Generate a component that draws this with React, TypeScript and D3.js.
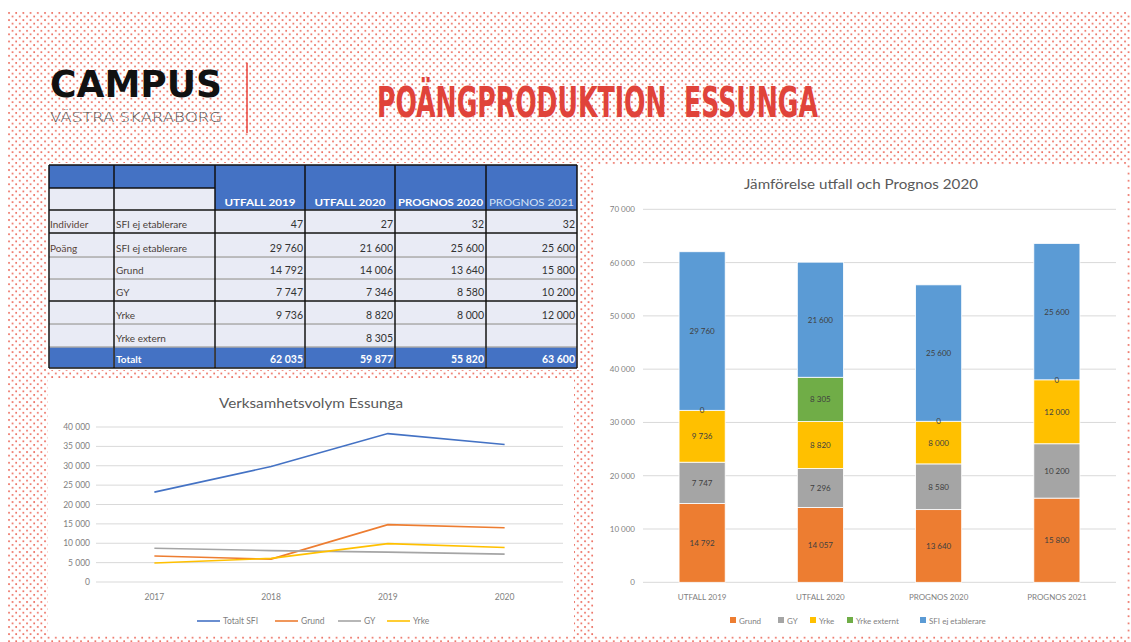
import React from 'react';
import * as d3 from 'd3';

// table
const tableColumns = ['UTFALL 2019', 'UTFALL 2020', 'PROGNOS 2020', 'PROGNOS 2021'];
const tableGroups = ['Individer', 'Poäng', '', '', '', '', ''];
const tableRowLabels = ['SFI ej etablerare', 'SFI ej etablerare', 'Grund', 'GY', 'Yrke', 'Yrke extern', 'Totalt'];
const tableValues: (number | null)[][] = [
  [47, 27, 32, 32],
  [29760, 21600, 25600, 25600],
  [14792, 14006, 13640, 15800],
  [7747, 7346, 8580, 10200],
  [9736, 8820, 8000, 12000],
  [null, 8305, null, null],
  [62035, 59877, 55820, 63600],
];

// line chart
const years = ['2017', '2018', '2019', '2020'];
const totaltSfi = [23200, 29800, 38300, 35500];
const grund = [6700, 5900, 14800, 14000];
const gy = [8700, 8100, 7700, 7200];
const yrke = [4900, 6100, 9900, 8900];
const lineNames = ['Totalt SFI', 'Grund', 'GY', 'Yrke'];
const lineTicks = [0, 5000, 10000, 15000, 20000, 25000, 30000, 35000, 40000];

// stacked bars
const barCategories = ['UTFALL 2019', 'UTFALL 2020', 'PROGNOS 2020', 'PROGNOS 2021'];
const barKeys = ['Grund', 'GY', 'Yrke', 'Yrke externt', 'SFI ej etablerare'];
const barGrund = [14792, 14057, 13640, 15800];
const barGy = [7747, 7296, 8580, 10200];
const barYrke = [9736, 8820, 8000, 12000];
const barYrkeExternt = [0, 8305, 0, 0];
const barSfi = [29760, 21600, 25600, 25600];
const barTicks = [0, 10000, 20000, 30000, 40000, 50000, 60000, 70000];

const fmt = d3.formatLocale({ decimal: ',', thousands: ' ', grouping: [3], currency: ['', ''] }).format(',');

const FONT = "Lato, 'Open Sans', sans-serif";
const BLUE = '#4472c4';
const LIGHT = '#e9ebf5';

const Table = () => {
  const xs = [49, 114, 215, 305, 395, 486, 577];
  const edges = [210, 233, 257, 279, 301, 324, 347, 368];
  const blackRows = [165, 210, 233, 301, 368];
  const greyRows = [257, 279, 324, 347];
  return (
    <g>
      <rect x={xs[0]} y={165} width={xs[2] - xs[0]} height={23} fill={BLUE} />
      <rect x={xs[0]} y={188} width={xs[2] - xs[0]} height={22} fill={LIGHT} />
      <rect x={xs[2]} y={165} width={xs[6] - xs[2]} height={45} fill={BLUE} />
      {tableColumns.map((c, i) => (
        <text key={c} x={(xs[i + 2] + xs[i + 3]) / 2} y={205.5} textAnchor="middle" fontFamily={FONT}
          fontSize={9.5} fontWeight={i === 3 ? 400 : 700} fill={i === 3 ? '#d6e3f6' : '#fff'}
          textLength={c.startsWith('PROGNOS') ? 85 : 71} lengthAdjust="spacingAndGlyphs">{c}</text>
      ))}
      {tableRowLabels.map((lab, r) => {
        const y0 = edges[r], y1 = edges[r + 1];
        const total = r === tableRowLabels.length - 1;
        return (
          <g key={r}>
            {xs.slice(0, -1).map((x, c) => (
              <rect key={c} x={x} y={y0} width={xs[c + 1] - x} height={y1 - y0}
                fill={total ? BLUE : LIGHT} stroke="#fff" strokeWidth={1} />
            ))}
            {tableGroups[r] && (
              <text x={xs[0] + 1} y={y1 - 5} fontFamily={FONT} fontSize={10} fill="#5a4438">{tableGroups[r]}</text>
            )}
            <text x={xs[1] + 2} y={y1 - 5} fontFamily={FONT} fontSize={10} fill={total ? '#fff' : '#4a3f3a'}
              fontWeight={total ? 700 : 400}>{lab}</text>
            {tableValues[r].map((v, c) => v === null ? null : (
              <text key={c} x={xs[c + 3] - 2} y={y1 - 5} textAnchor="end" fontFamily={FONT} fontSize={10.5}
                fill={total ? '#fff' : '#333'} fontWeight={total ? 700 : 400}>{fmt(v)}</text>
            ))}
          </g>
        );
      })}
      {greyRows.map(y => <line key={'g' + y} x1={xs[0]} x2={xs[6]} y1={y} y2={y} stroke="#7f7f7f" strokeWidth={1.2} />)}
      {blackRows.map(y => <line key={'b' + y} x1={xs[0]} x2={xs[6]} y1={y} y2={y} stroke="#111" strokeWidth={1.5} />)}
      <line x1={xs[0]} x2={xs[2]} y1={188} y2={188} stroke="#111" strokeWidth={1.5} />
      {xs.map(x => <line key={'v' + x} x1={x} x2={x} y1={165} y2={368} stroke="#111" strokeWidth={1.5} />)}
    </g>
  );
};

const LineChart = () => {
  const x = d3.scaleBand().domain(years).range([96, 563]).padding(0);
  const y = d3.scaleLinear().domain([0, 40000]).range([582, 427]);
  const cx = (d: string) => (x(d) as number) + x.bandwidth() / 2;
  const series = [totaltSfi, grund, gy, yrke];
  const colors = ['#4472c4', '#ed7d31', '#a5a5a5', '#ffc000'];
  const line = d3.line<number>().x((_, i) => cx(years[i])).y(d => y(d));
  const legendX = [197, 275, 338, 387];
  return (
    <g fontFamily={FONT}>
      <text x={311} y={408} textAnchor="middle" fontSize={14} fill="#595959" textLength={184}
        lengthAdjust="spacingAndGlyphs">Verksamhetsvolym  Essunga</text>
      {lineTicks.map(t => (
        <g key={t}>
          <line x1={96} x2={563} y1={y(t)} y2={y(t)} stroke="#d9d9d9" strokeWidth={1} />
          <text x={90} y={y(t) + 3} textAnchor="end" fontSize={8.5} fill="#7f7f7f">{fmt(t)}</text>
        </g>
      ))}
      {years.map(yr => (
        <text key={yr} x={cx(yr)} y={600} textAnchor="middle" fontSize={8.5} fill="#7f7f7f">{yr}</text>
      ))}
      {series.map((s, i) => (
        <path key={i} d={line(s) as string} fill="none" stroke={colors[i]} strokeWidth={1.6} />
      ))}
      {lineNames.map((n, i) => (
        <g key={n}>
          <line x1={legendX[i]} x2={legendX[i] + 23} y1={621} y2={621} stroke={colors[i]} strokeWidth={1.6} />
          <text x={legendX[i] + 26} y={624} fontSize={8.5} fill="#7f7f7f">{n}</text>
        </g>
      ))}
    </g>
  );
};

const BarChart = () => {
  const x = d3.scaleBand().domain(barCategories).range([643, 1116]).paddingInner(0.61).paddingOuter(0.305);
  const y = d3.scaleLinear().domain([0, 70000]).range([582.3, 209.3]);
  const colors = ['#ed7d31', '#a5a5a5', '#ffc000', '#70ad47', '#5b9bd5'];
  const cols = [barGrund, barGy, barYrke, barYrkeExternt, barSfi];
  const rows = barCategories.map((cat, i) => {
    const o: Record<string, any> = { cat };
    barKeys.forEach((k, j) => { o[k] = cols[j][i]; });
    return o;
  });
  const stacked = d3.stack<Record<string, any>>().keys(barKeys)(rows);
  const legendX = [730, 778, 810, 847, 920];
  return (
    <g fontFamily={FONT}>
      <text x={861} y={189} textAnchor="middle" fontSize={14} fill="#595959" textLength={234}
        lengthAdjust="spacingAndGlyphs">Jämförelse  utfall och Prognos 2020</text>
      {barTicks.map(t => (
        <g key={t}>
          <line x1={643} x2={1116} y1={y(t)} y2={y(t)} stroke="#d9d9d9" strokeWidth={1} />
          <text x={635} y={y(t) + 3} textAnchor="end" fontSize={8} fill="#7f7f7f">{fmt(t)}</text>
        </g>
      ))}
      {stacked.map((s, j) => (
        <g key={s.key}>
          {s.map((d, i) => (
            <rect key={i} x={x(barCategories[i])} y={y(d[1])} width={x.bandwidth()}
              height={y(d[0]) - y(d[1])} fill={colors[j]} stroke="#fff" strokeWidth={0.8} />
          ))}
        </g>
      ))}
      {stacked.map(s => s.map((d, i) => (
        <text key={s.key + i} x={(x(barCategories[i]) as number) + x.bandwidth() / 2} y={y((d[0] + d[1]) / 2) + 3}
          textAnchor="middle" fontSize={8} fill="#404040">{fmt(d[1] - d[0])}</text>
      )))}
      {barCategories.map(c => (
        <text key={c} x={(x(c) as number) + x.bandwidth() / 2} y={600} textAnchor="middle" fontSize={8}
          fill="#7f7f7f">{c}</text>
      ))}
      {barKeys.map((k, i) => (
        <g key={k}>
          <rect x={legendX[i]} y={617} width={6} height={6} fill={colors[i]} />
          <text x={legendX[i] + 9} y={623.5} fontSize={8} fill="#7f7f7f">{k}</text>
        </g>
      ))}
    </g>
  );
};

export default function App() {
  return (
    <svg width={1131} height={642} style={{ position: 'absolute', left: 0, top: 0 }}>
      <defs>
        <pattern id="dots" x={8} y={12} width={7.2} height={7.14} patternUnits="userSpaceOnUse">
          <circle cx={1} cy={1} r={0.95} fill="#e8503f" />
          <circle cx={4.6} cy={4.57} r={0.95} fill="#e8503f" />
        </pattern>
      </defs>
      <rect x={0} y={0} width={1131} height={642} fill="#fff" />
      <rect x={8} y={12} width={1123} height={630} fill="url(#dots)" opacity={0.9} />

      {/* header */}
      <text x={50} y={97} fontFamily="'DejaVu Sans', sans-serif" fontWeight={700} fontSize={37} fill="#111"
        textLength={172} lengthAdjust="spacingAndGlyphs">CAMPUS</text>
      <text x={50} y={122} fontFamily="'DejaVu Sans', sans-serif" fontWeight={200} fontSize={14} fill="#555"
        textLength={172} lengthAdjust="spacingAndGlyphs">VÄSTRA SKARABORG</text>
      <line x1={247} x2={247} y1={63} y2={133} stroke="#e8453c" strokeWidth={1.5} />
      <text x={377} y={117} fontFamily="'DejaVu Sans Condensed', 'DejaVu Sans', sans-serif" fontSize={42}
        fontWeight={700} fill="#e0433a" textLength={441} lengthAdjust="spacingAndGlyphs">
        {'POÄNGPRODUKTION\u00a0\u00a0ESSUNGA'}
      </text>

      {/* panels */}
      <rect x={47} y={163} width={532} height={207} fill="#fff" />
      <rect x={48} y={378} width={526} height={258} fill="#fff" />
      <rect x={594} y={165} width={533} height={471} fill="#fff" />

      <Table />
      <LineChart />
      <BarChart />
    </svg>
  );
}
